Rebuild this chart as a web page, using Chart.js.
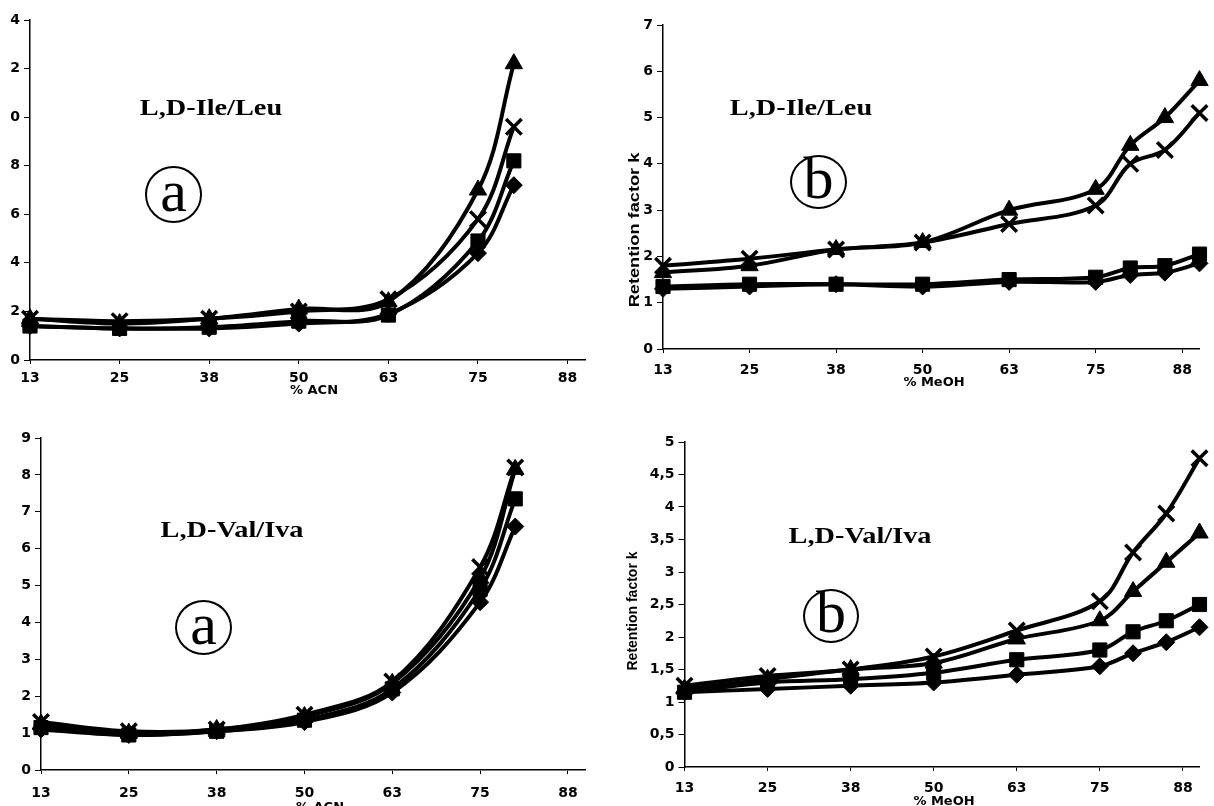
<!DOCTYPE html>
<html>
<head>
<meta charset="utf-8">
<script src="https://cdn.jsdelivr.net/npm/chart.js@4.4.0/dist/chart.umd.min.js"></script>
<style>
  html,body{margin:0;padding:0;background:#fff;overflow:hidden;}
  body{width:1214px;height:806px;position:relative;}
  canvas{position:absolute;}
  .lbl{position:absolute;font-family:"Liberation Serif","Times New Roman",serif;font-weight:bold;font-size:24px;line-height:1;white-space:nowrap;transform:translate(-50%,-50%) scaleX(1.18);color:#000;}
  .circ{position:absolute;border:2px solid #000;border-radius:50%;box-sizing:border-box;font-family:"Liberation Serif","Times New Roman",serif;font-size:60px;line-height:1;text-align:center;color:#000;}
  .circ span{position:absolute;left:50%;top:50%;transform:translate(-50%,-56%);}
  .xt{position:absolute;font-family:"DejaVu Sans",sans-serif;font-weight:bold;font-size:13px;line-height:1;white-space:nowrap;transform:translate(-50%,-50%);}
  .yt{position:absolute;font-family:"Liberation Sans",Arial,sans-serif;font-weight:bold;font-size:14px;line-height:1;white-space:nowrap;}
</style>
</head>
<body>
<canvas id="c1" width="600" height="400" style="left:0;top:0"></canvas>
<canvas id="c2" width="614" height="400" style="left:600px;top:0"></canvas>
<canvas id="c3" width="600" height="406" style="left:0;top:400px"></canvas>
<canvas id="c4" width="614" height="406" style="left:600px;top:400px"></canvas>

<div class="lbl" style="left:211px;top:107px">L,D-Ile/Leu</div>
<div class="lbl" style="left:801px;top:107px">L,D-Ile/Leu</div>
<div class="lbl" style="left:232px;top:529px">L,D-Val/Iva</div>
<div class="lbl" style="left:860px;top:535px">L,D-Val/Iva</div>

<div class="circ" style="left:145px;top:166px;width:57px;height:57px"><span>a</span></div>
<div class="circ" style="left:790px;top:155px;width:57px;height:54px"><span>b</span></div>
<div class="circ" style="left:175px;top:600px;width:57px;height:55px"><span>a</span></div>
<div class="circ" style="left:803px;top:589px;width:56px;height:54px"><span>b</span></div>

<div class="xt" style="left:314px;top:389px">% ACN</div>
<div class="xt" style="left:934px;top:381px">% MeOH</div>
<div class="xt" style="left:320px;top:806px">% ACN</div>
<div class="xt" style="left:944px;top:800px">% MeOH</div>

<div class="yt" style="left:634px;top:230px;transform:translate(-50%,-50%) rotate(-90deg) scaleX(1.3)">Retention factor k</div>
<div class="yt" style="left:632px;top:611px;transform:translate(-50%,-50%) rotate(-90deg)">Retention factor k</div>

<script>
// x positions of the measurements (% organic modifier)
const acnX=[12.5,25,37.5,50,62.5,75,80];
const meohX=[12.5,25,37.5,50,62.5,75,80,85,90];
const xTickValues=[12.5,25,37.5,50,62.5,75,87.5];
const xTickLabels=['13','25','38','50','63','75','88'];

// L,D-Ile/Leu in ACN
const ileAcnTriangle=[1.7,1.5,1.7,2.1,2.4,7.0,12.2];
const ileAcnCross=[1.7,1.6,1.7,2.0,2.5,5.8,9.6];
const ileAcnSquare=[1.4,1.3,1.35,1.6,1.85,4.9,8.2];
const ileAcnDiamond=[1.4,1.3,1.3,1.5,1.9,4.4,7.2];
const ileAcnYTicks=['0','2','4','6','8','0','2','4'];

// L,D-Ile/Leu in MeOH
const ileMeohTriangle=[1.65,1.8,2.15,2.3,3.0,3.45,4.4,5.0,5.8];
const ileMeohCross=[1.8,1.95,2.15,2.3,2.7,3.1,4.0,4.3,5.1];
const ileMeohSquare=[1.35,1.4,1.4,1.4,1.5,1.55,1.75,1.8,2.05];
const ileMeohDiamond=[1.3,1.35,1.4,1.35,1.45,1.45,1.6,1.65,1.85];
const ileMeohYTicks=['0','1','2','3','4','5','6','7'];

// L,D-Val/Iva in ACN
const valAcnCross=[1.3,1.05,1.1,1.5,2.4,5.5,8.2];
const valAcnTriangle=[1.25,1.0,1.1,1.45,2.35,5.2,8.15];
const valAcnSquare=[1.15,0.95,1.05,1.35,2.2,4.9,7.35];
const valAcnDiamond=[1.1,0.95,1.05,1.3,2.1,4.55,6.6];
const valAcnYTicks=['0','1','2','3','4','5','6','7','8','9'];

// L,D-Val/Iva in MeOH
const valMeohCross=[1.25,1.4,1.5,1.7,2.1,2.55,3.3,3.9,4.75];
const valMeohTriangle=[1.2,1.35,1.5,1.6,1.97,2.25,2.7,3.15,3.6];
const valMeohSquare=[1.15,1.3,1.35,1.45,1.65,1.8,2.08,2.25,2.5];
const valMeohDiamond=[1.15,1.2,1.25,1.3,1.42,1.55,1.75,1.92,2.15];
const valMeohYTicks=['0','0,5','1','1,5','2','2,5','3','3,5','4','4,5','5'];

const tickFont={family:'"DejaVu Sans", sans-serif',size:14,weight:'bold'};

function ds(xs,ys,style){
  const base={data:xs.map((x,i)=>({x:x,y:ys[i]})),borderColor:'#000',backgroundColor:'#000',
    borderWidth:4,tension:0.35,clip:false,pointBorderColor:'#000',pointBackgroundColor:'#000'};
  if(style==='triangle') return Object.assign(base,{pointStyle:'triangle',pointRadius:10,pointBorderWidth:1});
  if(style==='cross') return Object.assign(base,{pointStyle:'crossRot',pointRadius:11,pointBorderWidth:3.5});
  if(style==='square') return Object.assign(base,{pointStyle:'rect',pointRadius:10,pointBorderWidth:1});
  return Object.assign(base,{pointStyle:'rectRot',pointRadius:8.5,pointBorderWidth:1});
}

function makeChart(id,datasets,yMax,yStep,yLabels,g){
  new Chart(document.getElementById(id),{
    type:'line',
    data:{datasets:datasets},
    options:{
      responsive:false,animation:false,devicePixelRatio:1,
      layout:{padding:{left:0,top:g.top,right:g.right,bottom:0}},
      plugins:{legend:{display:false},tooltip:{enabled:false}},
      scales:{
        x:{type:'linear',min:12.5,max:90,
          afterBuildTicks:s=>{s.ticks=xTickValues.map(v=>({value:v}));},
          afterFit:s=>{s.height=g.xh;},
          ticks:{color:'#000',font:tickFont,padding:g.xpad,maxRotation:0,autoSkip:false,
            callback:(v,i)=>xTickLabels[i]},
          grid:{drawOnChartArea:false,color:'#000',tickLength:4},
          border:{color:'#000',width:1.5}},
        y:{type:'linear',min:0,max:yMax,
          afterFit:s=>{s.width=g.yw;},
          ticks:{color:'#000',font:tickFont,padding:4,stepSize:yStep,callback:(v,i)=>yLabels[i]},
          grid:{drawOnChartArea:false,color:'#000',tickLength:6},
          border:{color:'#000',width:1.5}}
      }
    }
  });
}

makeChart('c1',[ds(acnX,ileAcnTriangle,'triangle'),ds(acnX,ileAcnCross,'cross'),ds(acnX,ileAcnSquare,'square'),ds(acnX,ileAcnDiamond,'diamond')],
  14,2,ileAcnYTicks,{top:20,right:6,xh:40,yw:30,xpad:6});
makeChart('c2',[ds(meohX,ileMeohTriangle,'triangle'),ds(meohX,ileMeohCross,'cross'),ds(meohX,ileMeohSquare,'square'),ds(meohX,ileMeohDiamond,'diamond')],
  7,1,ileMeohYTicks,{top:25,right:8.5,xh:51,yw:63,xpad:9});
makeChart('c3',[ds(acnX,valAcnCross,'cross'),ds(acnX,valAcnTriangle,'triangle'),ds(acnX,valAcnSquare,'square'),ds(acnX,valAcnDiamond,'diamond')],
  9,1,valAcnYTicks,{top:38,right:4,xh:36,yw:41,xpad:11});
makeChart('c4',[ds(meohX,valMeohCross,'cross'),ds(meohX,valMeohTriangle,'triangle'),ds(meohX,valMeohSquare,'square'),ds(meohX,valMeohDiamond,'diamond')],
  5,0.5,valMeohYTicks,{top:42,right:8,xh:39,yw:84.5,xpad:9});
</script>
</body>
</html>
